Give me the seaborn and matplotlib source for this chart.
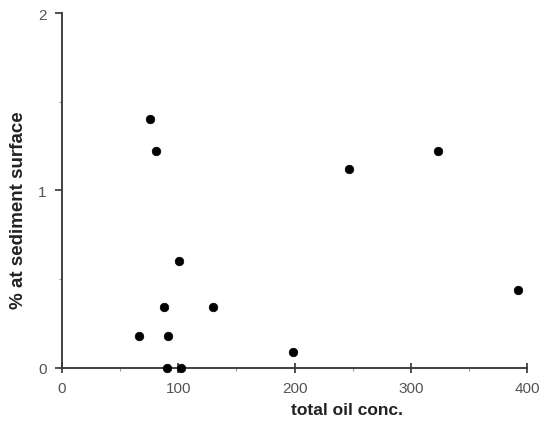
import matplotlib
matplotlib.use("Agg")
import matplotlib.pyplot as plt
import seaborn as sns
import pandas as pd

# values
oil_conc = [76, 81, 247, 323, 101, 392, 88, 130, 66, 91, 199, 90, 102]
pct_surface = [1.40, 1.22, 1.12, 1.22, 0.60, 0.44, 0.34, 0.34, 0.18, 0.18, 0.09, 0.0, 0.0]
x_ticks = [0, 100, 200, 300, 400]
y_ticks = [0, 1, 2]

df = pd.DataFrame({"oil": oil_conc, "pct": pct_surface})

sns.set_style("ticks")
plt.rcParams["font.family"] = ["Liberation Sans", "DejaVu Sans"]

fig = plt.figure(figsize=(5.44, 4.27), dpi=100)
ax = fig.add_axes([0.114, 0.137, 0.855, 0.830])

sns.scatterplot(data=df, x="oil", y="pct", color="black", s=38,
                edgecolor="black", linewidth=0.5, ax=ax, clip_on=False, zorder=3)

ax.set_xlim(0, 400)
ax.set_ylim(0, 2)
ax.set_xticks(x_ticks)
ax.set_yticks(y_ticks)
ax.set_xticks([50, 150, 250, 350], minor=True)
ax.set_yticks([0.5, 1.5], minor=True)

sns.despine(ax=ax)
for sp in ["left", "bottom"]:
    ax.spines[sp].set_color("#333333")
    ax.spines[sp].set_linewidth(1.3)

ax.tick_params(axis="x", which="major", direction="inout", length=7, width=1.2,
               colors="#333333", labelcolor="#555555", labelsize=11, pad=6)
ax.tick_params(axis="y", which="major", direction="out", length=5, width=1.2,
               colors="#333333", labelcolor="#555555", labelsize=11, pad=6)
ax.tick_params(which="minor", direction="out", length=2, width=0.8, colors="#999999")

ax.set_xlabel("total oil conc.", fontsize=12.5, fontweight="bold", color="#222222",
              x=0.613, labelpad=5)
ax.set_ylabel("% at sediment surface", fontsize=13.5, fontweight="bold", color="#222222",
              y=0.447, labelpad=8)

fig.savefig("out.png", dpi=100, facecolor="white")
